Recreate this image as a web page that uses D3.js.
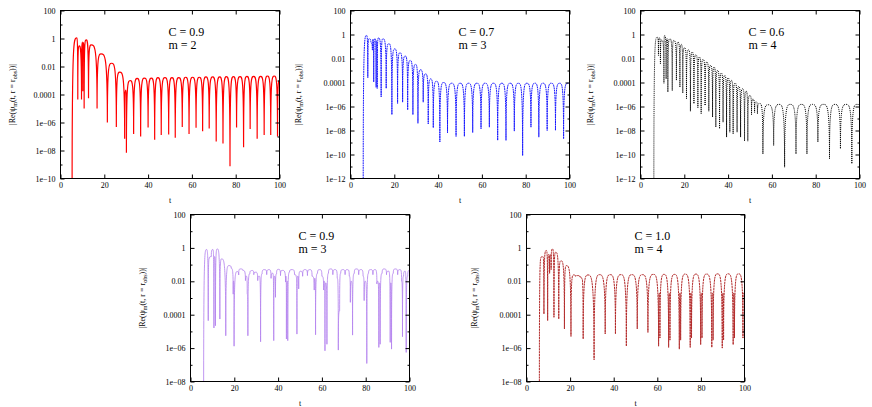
<!DOCTYPE html>
<html>
<head>
<meta charset="utf-8">
<script src="https://cdn.jsdelivr.net/npm/d3@7/dist/d3.min.js"></script>
<style>
  html, body { margin: 0; padding: 0; background: #fff; }
  svg { display: block; }
  svg text { font-family: "Liberation Serif", "Times New Roman", Times, serif !important; }
</style>
</head>
<body>
<script>
// ---------------- DATA (t, |Re psi_m(t, r = r_obs)|) ----------------
const redC09m2 = [
  [5.3,1e-11],[7.3,1.1],[7.9,4.4e-5],[8.5,0.3],[9.6,4.4e-5],[10.0,0.55],[10.2,1.7e-4],[10.5,0.5],[10.8,1e-5],
  [11.7,0.8],[12.8,5.5e-5],[14.0,0.35],[16.7,1e-5],[18.5,0.08],[21.4,1e-6],[23.3,0.017],[25.5,4.7e-7],
  [27.0,0.004],[29.3,6.8e-8],[29.8,2.1e-4],[30.1,6.8e-9],[31.8,1e-3],[33.4,1.5e-7],[35.0,1.4e-3],[36.6,1e-7],
  [38.3,1.5e-3],[40.0,4.4e-7],[41.5,1.5e-3],[43.0,5.8e-8],[44.5,1.6e-3],[46.0,1.3e-7],[47.7,1.6e-3],[49.4,1.4e-7],
  [50.9,1.6e-3],[52.4,8e-8],[54.0,1.6e-3],[55.6,4.7e-7],[57.2,1.7e-3],[58.7,1.5e-7],[60.3,1.7e-3],[61.9,4.2e-7],
  [63.4,1.7e-3],[64.9,2.4e-7],[66.4,1.8e-3],[67.9,3.7e-7],[69.5,1.8e-3],[71.1,4.4e-8],[72.7,1.8e-3],[74.2,3.2e-8],
  [75.8,1.9e-3],[77.4,7.6e-10],[78.9,1.9e-3],[80.4,4.4e-7],[82.0,1.9e-3],[83.6,1.7e-8],[85.1,2e-3],[86.6,3.5e-7],
  [88.2,2e-3],[89.8,6.8e-8],[91.4,2e-3],[93.0,1.3e-7],[94.5,2.1e-3],[96.0,1.3e-7],[97.6,2.1e-3],[99.1,1e-7],[100,1e-3]
];
const blueC07m3 = [
  [5.8,1e-13],[7.3,0.83],[7.9,2.5e-4],[8.5,0.44],[9.3,0.2],[10.0,0.05],[10.3,0.4],[10.6,1.1e-4],[11.2,0.45],
  [11.7,4e-5],[11.9,0.3],[12.2,3.2e-5],[12.8,0.52],[14.0,6.3e-6],[14.8,0.44],[16.3,3.2e-5],[17.5,0.17],
  [18.9,2.1e-7],[20.2,0.063],[21.5,1.8e-6],[22.6,0.03],[23.8,2.3e-6],[25.0,0.016],[26.1,5.2e-7],[27.3,0.0068],
  [28.5,2.1e-7],[29.7,0.0032],[30.8,4e-8],[32.0,1.15e-3],[33.2,2.3e-6],[34.3,5.2e-4],[35.5,3.5e-8],[36.6,2e-4],
  [37.8,1.7e-8],[39.3,1.26e-4],[40.8,1.1e-9],[42.5,1e-4],[44.3,6.3e-9],[46.2,8.7e-5],[48.2,3.2e-9],[50.1,8.7e-5],
  [52.0,3.2e-9],[53.9,8.7e-5],[55.8,6.8e-9],[57.7,8.7e-5],[59.6,1.4e-8],[61.5,8.7e-5],[63.4,1.9e-8],[65.3,8.7e-5],
  [67.2,1.5e-9],[69.1,8.7e-5],[71.0,1.5e-9],[72.9,8.7e-5],[74.8,8.9e-9],[76.7,8.7e-5],[78.6,8e-11],[80.5,8.7e-5],
  [82.4,1.9e-8],[84.2,8.7e-5],[86.0,2.8e-9],[87.9,8.7e-5],[89.8,1e-8],[91.7,8.7e-5],[93.6,1e-8],[95.5,8.7e-5],
  [97.3,2e-9],[99.2,8.7e-5],[100,7e-5]
];
const blackC06m4 = [
  [6.1,1e-13],[7.6,0.6],[8.2,0.018],[8.7,0.52],[9.1,3.6e-3],[9.7,0.35],[10.7,8.7e-5],[11.0,0.83],[11.7,2e-4],
  [12.1,0.45],[12.5,1.6e-5],[13.4,0.44],[14.5,2.1e-5],[15.2,0.32],[16.4,1.5e-4],[17.1,0.23],[18.0,4e-5],
  [18.6,0.15],[19.3,1.3e-5],[20.1,0.078],[21.0,4.4e-6],[21.9,0.053],[22.8,4e-7],[23.6,0.034],[24.4,1.7e-6],
  [25.3,0.02],[26.2,7.8e-7],[26.9,0.013],[27.7,2.5e-7],[28.6,8.3e-3],[29.5,1.2e-6],[30.3,5e-3],[31.2,4e-7],
  [32.0,2.6e-3],[32.9,1.3e-7],[33.6,1.9e-3],[34.4,1.9e-8],[35.2,1e-3],[36.1,1.4e-8],[36.9,6e-4],[37.7,4.9e-8],
  [38.5,3.8e-4],[39.3,2.8e-9],[40.0,2.4e-4],[40.8,7.2e-9],[41.5,1.5e-4],[42.3,5.2e-9],[43.2,8.8e-5],[44.1,7.2e-9],
  [44.9,4.6e-5],[45.7,2.8e-9],[46.6,3e-5],[47.5,1.3e-9],[48.2,1.9e-5],[49.0,1.3e-9],[49.9,8.3e-6],[50.7,2e-7],
  [51.3,4e-6],[52.1,3.2e-7],[52.8,2.5e-6],[53.4,2.5e-7],[54.4,1.8e-6],[55.9,1.1e-10],[58.3,1.4e-6],[60.8,5.6e-10],
  [63.3,1.5e-6],[65.8,8.7e-12],[68.4,1.5e-6],[71.0,1.1e-10],[73.5,1.5e-6],[76.0,1.1e-10],[78.5,1.5e-6],[81.0,1.1e-9],
  [83.6,1.5e-6],[86.3,4.4e-11],[88.8,1.5e-6],[91.3,3e-10],[93.9,1.5e-6],[96.5,1.7e-11],[98.8,1.5e-6],[100,1.1e-6]
];
const purpleC09m3 = [
  [6.0,1e-9],[7.3,0.8],[8.1,4.4e-5],[8.6,0.24],[9.5,0.3],[10.2,0.8],[10.7,1.6e-5],[11.0,0.3],[11.4,2.2e-5],
  [12.2,0.87],[13.4,5.5e-5],[14.2,0.22],[16.1,5.5e-6],[17.5,0.087],[18.6,0.06],[19.5,1.7e-3],[19.7,0.01],
  [19.9,1.3e-6],[21.3,0.038],[22.0,0.024],[22.8,0.055],[23.9,0.045],[25.1,0.011],[25.5,0.02],[25.9,1.7e-3],
  [26.2,5.5e-6],[27.1,0.028],[28.2,0.044],[28.9,0.025],[29.8,0.035],[30.7,0.011],[31.4,0.02],[32.0,2.4e-6],
  [32.7,0.028],[33.8,0.05],[34.8,0.025],[35.8,0.05],[36.8,0.015],[37.6,0.03],[38.0,2.8e-6],[38.4,0.02],
  [38.8,1.1e-3],[39.3,0.028],[40.2,0.052],[41.1,0.022],[42.0,0.045],[43.4,9e-3],[43.6,0.02],[43.8,3.5e-6],
  [44.2,0.01],[44.4,2.8e-6],[45.2,0.035],[46.4,0.05],[47.5,0.025],[48.2,0.02],[48.6,6.9e-6],[49.0,0.02],
  [49.4,3.5e-3],[50.2,0.04],[51.2,0.02],[52.3,0.05],[53.4,0.022],[54.5,0.05],[55.5,0.02],[56.5,3e-3],[56.8,0.015],
  [57.1,6.3e-6],[58.0,0.03],[59.0,0.05],[60.0,0.02],[60.8,3e-3],[61.1,0.01],[61.4,6.9e-7],[61.8,0.008],[62.3,1.7e-6],
  [63.0,0.03],[64.0,0.055],[65.0,0.025],[66.0,0.05],[67.0,0.015],[67.5,7.6e-7],[68.1,1.7e-4],[68.6,0.03],
  [69.6,0.05],[70.6,0.025],[71.6,0.05],[72.5,0.02],[73.0,5.5e-4],[73.4,0.01],[74.0,6e-6],[74.8,0.03],[75.8,0.055],
  [76.8,0.025],[77.8,0.05],[78.8,0.02],[79.3,7e-4],[79.8,0.01],[80.5,1.2e-7],[81.3,0.03],[82.3,0.05],[83.3,0.025],
  [84.3,0.05],[85.1,0.007],[85.5,0.01],[86.0,1.1e-6],[86.3,0.008],[86.6,1.7e-6],[87.5,0.03],[88.5,0.055],
  [89.5,0.025],[90.5,0.04],[91.2,2.2e-6],[91.5,0.008],[91.8,8.7e-7],[92.6,0.03],[93.6,0.055],[94.6,0.025],
  [95.6,0.05],[96.4,0.01],[96.8,4.8e-6],[97.3,0.02],[98.0,0.04],[98.5,5.5e-7],[99.2,0.02],[100,0.045]
];
const brownC10m4 = [
  [5.9,1e-9],[6.8,0.28],[7.5,0.3],[8.0,1.1e-4],[9.1,0.7],[9.7,4.4e-5],[10.2,0.4],[10.6,0.03],[11.0,0.4],
  [11.3,0.05],[11.9,0.87],[12.6,7e-5],[13.4,0.55],[14.8,5.5e-5],[15.8,0.17],[17.4,1.4e-5],[18.3,0.087],
  [20.4,5e-6],[21.6,0.024],[22.5,0.02],[23.5,0.022],[24.5,0.018],[25.3,0.015],[26.0,3.5e-6],[28.2,0.024],
  [31.0,2e-7],[33.5,0.025],[36.1,7e-6],[38.4,0.025],[40.8,7e-6],[43.3,0.025],[45.8,1.3e-6],[48.3,0.025],
  [50.8,1.4e-5],[53.2,0.025],[55.7,8.7e-6],[58.2,0.026],[60.6,1.3e-6],[60.9,2e-3],[61.2,4e-6],[63.1,0.026],
  [65.2,1.1e-6],[65.5,2e-3],[65.8,3e-6],[67.9,0.026],[70.1,8.7e-7],[70.4,2e-3],[70.7,3e-6],[72.8,0.027],
  [75.1,1.1e-6],[75.4,2e-3],[75.7,4e-6],[77.7,0.027],[79.9,1.6e-6],[80.2,2e-3],[80.5,4e-6],[82.6,0.027],
  [85.0,1.1e-6],[85.3,2e-3],[85.6,3e-6],[87.6,0.028],[89.8,1e-6],[90.1,2e-3],[90.4,3e-6],[92.5,0.028],
  [94.8,1.6e-6],[95.1,2e-3],[95.4,4e-6],[97.3,0.028],[99.3,4e-6],[99.6,2e-3],[100,1e-3]
];

const panelC = ["0.9", "0.7", "0.6", "0.9", "1.0"];
const panelM = ["2", "3", "4", "3", "4"];
const xTicks = [0, 20, 40, 60, 80, 100];
const yTicksTo1e10 = [100, 1, 0.01, 1e-4, 1e-6, 1e-8, 1e-10];
const yLabelsTo1e10 = ["100", "1", "0.01", "0.0001", "1e\u221206", "1e\u221208", "1e\u221210"];
const yTicksTo1e12 = [100, 1, 0.01, 1e-4, 1e-6, 1e-8, 1e-10, 1e-12];
const yLabelsTo1e12 = ["100", "1", "0.01", "0.0001", "1e\u221206", "1e\u221208", "1e\u221210", "1e\u221212"];
const yTicksTo1e8 = [100, 1, 0.01, 1e-4, 1e-6, 1e-8];
const yLabelsTo1e8 = ["100", "1", "0.01", "0.0001", "1e\u221206", "1e\u221208"];

// ---------------- LAYOUT / STYLE ----------------
const W = 872, H = 407;
const FONT = "Liberation Serif";
const panels = [
  {data: redC09m2,    yMin: 1e-10, yt: yTicksTo1e10, yl: yLabelsTo1e10, left: 60,  top: 10,  w: 219, h: 168, color: "#ff0000", dash: null,      sw: 1.2, op: 1,    ylx: -46},
  {data: blueC07m3,   yMin: 1e-12, yt: yTicksTo1e12, yl: yLabelsTo1e12, left: 350, top: 10,  w: 219, h: 168, color: "#1a1aff", dash: "1.8,0.6", sw: 1.0, op: 1,    ylx: -50},
  {data: blackC06m4,  yMin: 1e-12, yt: yTicksTo1e12, yl: yLabelsTo1e12, left: 640, top: 10,  w: 219, h: 168, color: "#000000", dash: "1,1",     sw: 1.0, op: 1,    ylx: -48},
  {data: purpleC09m3, yMin: 1e-8,  yt: yTicksTo1e8,  yl: yLabelsTo1e8,  left: 190, top: 214, w: 219, h: 167, color: "#b585ee", dash: null,      sw: 1.0, op: 0.85, ylx: -46},
  {data: brownC10m4,  yMin: 1e-8,  yt: yTicksTo1e8,  yl: yLabelsTo1e8,  left: 526, top: 214, w: 218, h: 167, color: "#b22a2a", dash: "2.2,0.6", sw: 1.0, op: 1,    ylx: -50}
];

// Curve: horizontal tangent at the upper end of a segment, vertical tangent at the lower end
function curveLobe(context) {
  let pts = [];
  return {
    areaStart() {}, areaEnd() {},
    lineStart() { pts = []; },
    point(x, y) { pts.push([+x, +y]); },
    lineEnd() {
      if (!pts.length) return;
      context.moveTo(pts[0][0], pts[0][1]);
      for (let i = 1; i < pts.length; i++) {
        const [x0, y0] = pts[i - 1], [x1, y1] = pts[i];
        const dx = x1 - x0;
        if (y1 > y0) {
          context.bezierCurveTo(x0 + dx * 0.6, y0, x1, y0, x1, y1);
        } else {
          context.bezierCurveTo(x0, y1, x1 - dx * 0.6, y1, x1, y1);
        }
      }
    }
  };
}

const svg = d3.select("body").append("svg").attr("width", W).attr("height", H);
svg.append("rect").attr("width", W).attr("height", H).attr("fill", "#fff");

panels.forEach((p, i) => {
  const g = svg.append("g").attr("transform", `translate(${p.left + 0.5},${p.top + 0.5})`);
  const x = d3.scaleLinear().domain([0, 100]).range([0, p.w]);
  const y = d3.scaleLog().domain([p.yMin, 100]).range([p.h, 0]);

  g.append("clipPath").attr("id", "clip" + i)
    .append("rect").attr("x", 0).attr("y", 0).attr("width", p.w).attr("height", p.h);

  const line = d3.line().x(d => x(d[0])).y(d => y(d[1])).curve(curveLobe);
  g.append("path").datum(p.data)
    .attr("clip-path", `url(#clip${i})`)
    .attr("fill", "none")
    .attr("stroke", p.color)
    .attr("stroke-width", p.sw)
    .attr("stroke-opacity", p.op)
    .attr("stroke-dasharray", p.dash)
    .attr("d", line);

  const e0 = Math.round(Math.log10(p.yMin));
  const minor = d3.range(e0, 3).map(e => Math.pow(10, e)).filter(v => !p.yt.some(t => Math.abs(Math.log10(t) - Math.log10(v)) < 1e-9));

  const styleAxis = sel => {
    sel.attr("font-family", FONT).attr("font-size", 8);
    sel.select(".domain").remove();
    sel.selectAll("line").attr("stroke", "#000");
    sel.selectAll("text").style("font-family", FONT).attr("font-size", 8).attr("fill", "#000");
  };

  g.append("g").call(d3.axisLeft(y).tickValues(p.yt).tickFormat((d, k) => p.yl[k]).tickSize(-4).tickPadding(5)).call(styleAxis);
  g.append("g").call(d3.axisLeft(y).tickValues(minor).tickFormat("").tickSize(-2)).call(styleAxis);
  g.append("g").attr("transform", `translate(${p.w},0)`).call(d3.axisRight(y).tickValues(p.yt).tickFormat("").tickSize(-4)).call(styleAxis);
  g.append("g").attr("transform", `translate(${p.w},0)`).call(d3.axisRight(y).tickValues(minor).tickFormat("").tickSize(-2)).call(styleAxis);
  g.append("g").attr("transform", `translate(0,${p.h})`).call(d3.axisBottom(x).tickValues(xTicks).tickFormat(d3.format("d")).tickSize(-4).tickPadding(4)).call(styleAxis);
  g.append("g").call(d3.axisTop(x).tickValues(xTicks).tickFormat("").tickSize(-4)).call(styleAxis);

  g.append("rect").attr("width", p.w).attr("height", p.h).attr("fill", "none").attr("stroke", "#000").attr("stroke-width", 1);

  g.append("text").attr("x", p.w / 2).attr("y", p.h + 24).attr("text-anchor", "middle")
    .style("font-family", FONT).attr("font-size", 8).text("t");

  const yl = g.append("text").attr("transform", `translate(${p.ylx},${p.h / 2}) rotate(-90)`)
    .attr("text-anchor", "middle").style("font-family", FONT).attr("font-size", 8);
  yl.append("tspan").text("|Re(\u03C8");
  yl.append("tspan").attr("dy", 2).attr("font-size", 6).text("m");
  yl.append("tspan").attr("dy", -2).text("(t, r = r");
  yl.append("tspan").attr("dy", 2).attr("font-size", 6).text("obs");
  yl.append("tspan").attr("dy", -2).text("))|");

  g.append("text").attr("x", 108).attr("y", 25).style("font-family", FONT).attr("font-size", 12).text("C = " + panelC[i]);
  g.append("text").attr("x", 108).attr("y", 38.5).style("font-family", FONT).attr("font-size", 12).text("m = " + panelM[i]);
});
</script>
</body>
</html>
